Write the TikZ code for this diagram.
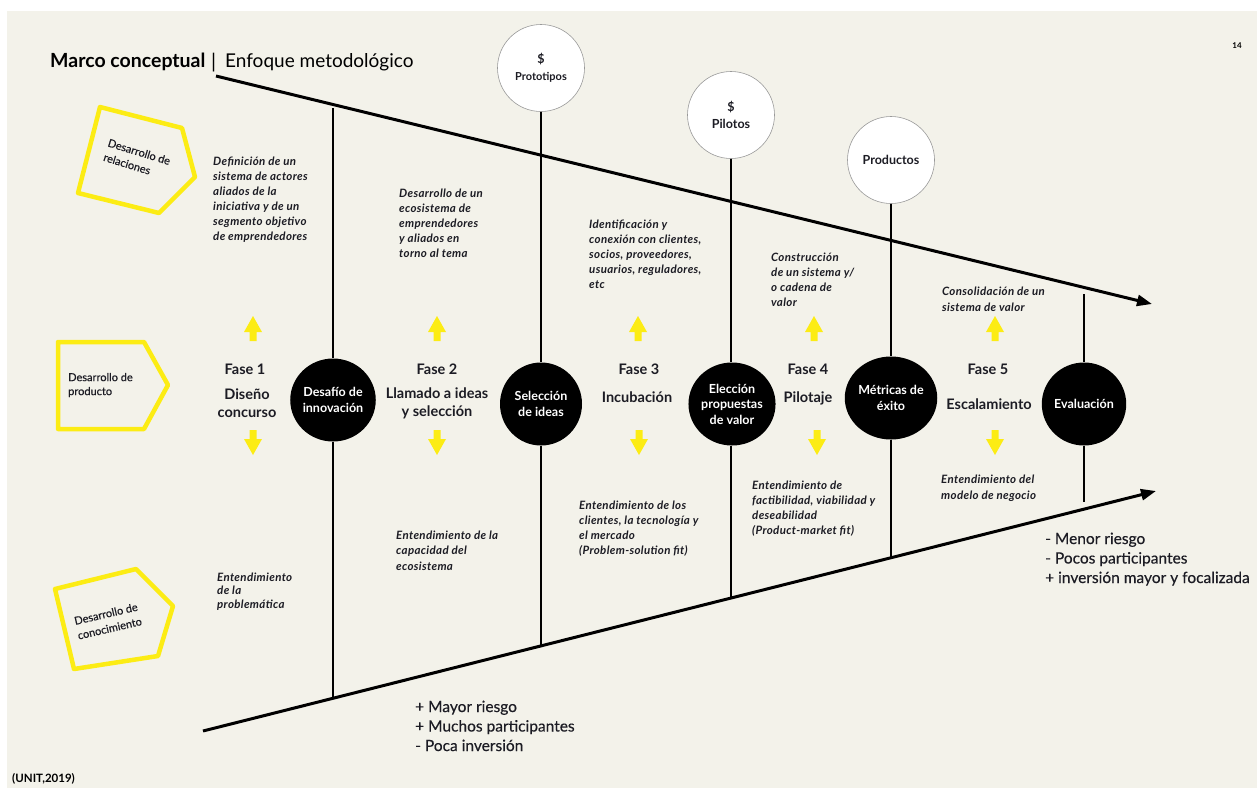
\documentclass[tikz,border=0pt]{standalone}
\usepackage{fontspec}
\setmainfont{Lato}
\usetikzlibrary{shapes.geometric,arrows.meta}
\definecolor{bgc}{RGB}{243,242,234}
\definecolor{ylw}{RGB}{252,236,20}
\definecolor{ink}{RGB}{28,28,36}
\tikzset{
  uparrow/.pic={\fill[ylw] (0,0)--(9,16)--(3.5,16)--(3.5,25)--(-3.5,25)--(-3.5,16)--(-9,16)--cycle;},
  downarrow/.pic={\fill[ylw] (0,0)--(9,-16)--(3.5,-16)--(3.5,-25)--(-3.5,-25)--(-3.5,-16)--(-9,-16)--cycle;}
}
% italic note font with a little tracking
\newcommand\notefont[1]{\fontsize{11.5}{#1}\selectfont\bfseries\itshape\addfontfeature{LetterSpace=3}}
\begin{document}
\begin{tikzpicture}[x=1pt,y=-1pt,
  axis/.style={line width=3pt,-{Triangle[length=15pt,width=11pt]}},
  stem/.style={line width=1.3pt},
  lane/.style={draw=ylw,line width=4.5pt,line join=round},
  stage/.style={ellipse,fill=black,minimum width=82pt,minimum height=83pt,inner sep=0pt,text=white,align=center,font=\fontsize{12.5}{15.5}\selectfont\bfseries},
  outcome/.style={circle,draw=gray!80,line width=0.6pt,fill=white,minimum size=87pt,inner sep=0pt,align=center,text=ink,font=\fontsize{12.5}{17}\selectfont\bfseries},
  phase/.style={align=center,inner sep=0pt,text=ink,font=\fontsize{14.5}{18}\selectfont\bfseries},
  note/.style={anchor=base west,align=left,inner sep=0pt,text=ink,font=\notefont{15}},
  lanetext/.style={align=left,inner sep=0pt,text=ink,font=\fontsize{11}{15}\selectfont\addfontfeature{FakeBold=0.4}},
  gain/.style={anchor=base west,align=left,inner sep=0pt,text=ink,font=\fontsize{15.5}{19.5}\selectfont\addfontfeature{FakeBold=0.3}}
]
\useasboundingbox (0,0) rectangle (1257,788);
\fill[white] (0,0) rectangle (1257,788);
\fill[bgc] (7,11) rectangle (1257,788);

% heading, page number, source
\node[anchor=base west,inner sep=0pt,font=\fontsize{19.5}{21}\selectfont\bfseries] (title) at (50,67) {Marco conceptual};
\node[anchor=base west,inner sep=0pt,font=\fontsize{20}{22}\selectfont] (bar) at (211,68) {|};
\node[anchor=base west,inner sep=0pt,font=\fontsize{19}{22}\selectfont] (subtitle) at (225,67) {Enfoque metodológico};
\node[font=\fontsize{8}{9}\selectfont\bfseries] (page) at (1237,46) {14};
\node[anchor=base west,inner sep=0pt,font=\fontsize{11.5}{12}\selectfont\bfseries] (source) at (12,782) {(UNIT,2019)};

% the two converging axes
\coordinate (topstart) at (216,76);
\coordinate (topend) at (1152,304);
\coordinate (botstart) at (203,731);
\coordinate (botend) at (1156,491);
\draw[axis] (topstart) -- (topend);
\draw[axis] (botstart) -- (botend);

% outcome circles
\node[outcome] (proto) at (541,68) {\$\\{\fontsize{11}{13}\selectfont Prototipos}};
\node[outcome] (pilot) at (731,115) {\$\\Pilotos};
\node[outcome] (prod) at (891,160) {Productos};

% stage milestones
\node[stage] (s1) at (333,400) {Desafío de\\innovación};
\node[stage] (s2) at (541,404) {Selección\\de ideas};
\node[stage] (s3) at (732,404) {Elección\\propuestas\\de valor};
\node[stage] (s4) at (891,398) {Métricas de\\éxito};
\node[stage] (s5) at (1084,404) {Evaluación};

% stems
\coordinate (c1t) at (333,108);
\coordinate (c1b) at (333,698);
\coordinate (c2b) at (541,646);
\coordinate (c3b) at (731,599);
\coordinate (c4b) at (891,558);
\coordinate (c5t) at (1084,294);
\coordinate (c5b) at (1084,502);
\draw[stem] (c1t) -- (s1.north);
\draw[stem] (s1.south) -- (c1b);
\draw[stem] (proto.south) -- (s2.north);
\draw[stem] (s2.south) -- (c2b);
\draw[stem] (pilot.south) -- (s3.north -| pilot.south);
\draw[stem] (s3.south -| pilot.south) -- (c3b);
\draw[stem] (prod.south) -- (s4.north);
\draw[stem] (s4.south) -- (c4b);
\draw[stem] (c5t) -- (s5.north);
\draw[stem] (s5.south) -- (c5b);

% lanes
\draw[lane] (100,107) -- (182,128) -- (195,177) -- (159,213) -- (78,193) -- cycle;
\node[lanetext,rotate=-17] (rel) at (137,159) {Desarrollo de\\relaciones};
\draw[lane] (58,342) -- (144,342) -- (168,385) -- (144,429) -- (58,429) -- cycle;
\node[lanetext,anchor=west,font=\fontsize{11}{14}\selectfont\addfontfeature{FakeBold=0.4}] (prodlane) at (68,385) {Desarrollo de\\producto};
\draw[lane] (55,589) -- (136,569) -- (173,606) -- (158,656) -- (74,669) -- cycle;
\node[lanetext,rotate=13] (know) at (108,621) {Desarrollo de\\conocimiento};

% yellow arrows
\foreach \x in {253,437,638,814,995} \pic at (\x,316) {uparrow};
\foreach \x in {253,437,639,817,995} \pic at (\x,455) {downarrow};

% phases
\node[phase] (f1) at (245,369) {Fase 1};
\node[phase] (f1n) at (247,403) {Diseño\\concurso};
\node[phase] (f2) at (437,369) {Fase 2};
\node[phase] (f2n) at (437,403) {Llamado a ideas\\y selección};
\node[phase] (f3) at (639,369) {Fase 3};
\node[phase] (f3n) at (637,397) {Incubación};
\node[phase] (f4) at (808,369) {Fase 4};
\node[phase] (f4n) at (808,398) {Pilotaje};
\node[phase] (f5) at (988,369) {Fase 5};
\node[phase] (f5n) at (989,404) {Escalamiento};

% relationship notes (placed at the baseline of their last line)
\node[note] (n1) at (213,240) {Definición de un\\sistema de actores\\aliados de la\\iniciativa y de un\\segmento objetivo\\de emprendedores};
\node[note] (n2) at (399,257) {Desarrollo de un\\ecosistema de\\emprendedores\\y aliados en\\torno al tema};
\node[note] (n3) at (589,288) {Identificación y\\conexión con clientes,\\socios, proveedores,\\usuarios, reguladores,\\etc};
\node[note] (n4) at (771,306) {Construcción\\de un sistema y/\\o cadena de\\valor};
\node[note,font=\notefont{16}] (n5) at (942,311) {Consolidación de un\\sistema de valor};

% knowledge notes
\node[note,font=\notefont{13.5}] (k1) at (217,608) {Entendimiento\\de la\\problemática};
\node[note,font=\notefont{15.5}] (k2) at (396,570) {Entendimiento de la\\capacidad del\\ecosistema};
\node[note] (k3) at (579,554) {Entendimiento de los\\clientes, la tecnología y\\el mercado\\(Problem-solution fit)};
\node[note] (k4) at (752,534) {Entendimiento de\\factibilidad, viabilidad y\\deseabilidad\\(Product-market fit)};
\node[note,font=\notefont{16}] (k5) at (941,499) {Entendimiento del\\modelo de negocio};

% risk / investment trade-off
\node[gain] (early) at (415,751) {+ Mayor riesgo\\+ Muchos participantes\\- Poca inversión};
\node[gain] (late) at (1045,583) {- Menor riesgo\\- Pocos participantes\\+ inversión mayor y focalizada};
\end{tikzpicture}
\end{document}
